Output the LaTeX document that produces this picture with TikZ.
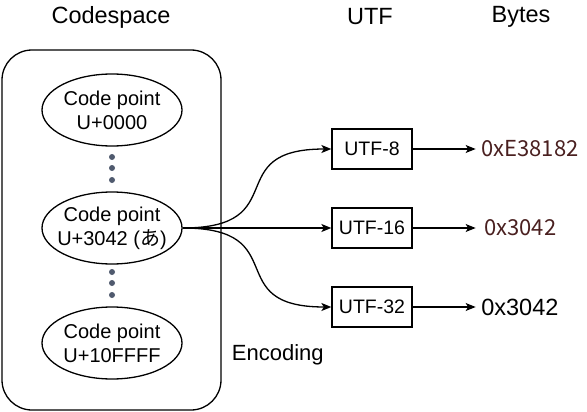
\documentclass[tikz,border=0pt]{standalone}
\usepackage{fontspec}
\setmainfont{Liberation Sans}
\newfontfamily\cjk{Noto Sans CJK JP}
\usepackage[dvipsnames]{xcolor}
\usetikzlibrary{shapes.geometric,positioning,arrows.meta}
\definecolor{hexred}{HTML}{4A2020}
\definecolor{dotgray}{HTML}{505A6E}

\begin{document}
\begin{tikzpicture}[x=1pt,y=-1pt,->,>={Stealth[length=10pt,width=8pt,inset=2.5pt]},line width=1.3pt,auto,node distance=79pt,
    point node/.style={ellipse,draw,minimum width=140pt,minimum height=72pt,inner xsep=-14pt,inner ysep=0pt,align=center,font=\fontsize{20}{24}\selectfont},
    utf node/.style={draw,minimum width=80pt,minimum height=40pt,inner sep=0pt,font=\fontsize{19.5}{22}\selectfont},
    head node/.style={font=\fontsize{23.5}{26}\selectfont}]

            \useasboundingbox (0,0) rectangle (587,412);

            % codespace
            \draw[-,rounded corners=30pt] (2,50) rectangle (221,410);
            \node[head node] (h1) at (111,17) {Codespace};
            \node[head node] (h2) at (370,17) {UTF};
            \node[head node] (h3) at (521,17) {Bytes};

            \node[point node] (1) at (112,110) {Code point\\U+0000};
            \node[point node] (2) at (112,228) {Code point\\U+3042 ({\cjk あ})};
            \node[point node] (3) at (112,343) {Code point\\U+10FFFF};

            \foreach \y in {157,168,180,272,283,295}
                \fill[dotgray] (112,\y) circle (3pt);

            \node[font=\fontsize{22}{24}\selectfont, anchor=west] (enc) at (228,355) {Encoding};

            % encodings
            \node[utf node] (5) at (372,228) {UTF-16};
            \node[utf node] (4) [above of = 5] {UTF-8};
            \node[utf node] (6) [below of = 5] {UTF-32};

            \draw (2.east) to[out=0,in=180,looseness=1.7] (4);
            \draw (2.east) to (5);
            \draw (2.east) to[out=0,in=180,looseness=1.7] (6);

            % bytes
            \coordinate[right=63pt of 4.east] (7);
            \coordinate[right=63pt of 5.east] (8);
            \coordinate[right=63pt of 6.east] (9);

            \draw (4) to (7);
            \draw (5) to (8);
            \draw (6) to (9);

            \node[right=3pt of 7, inner sep=2pt, text=hexred, font=\cjk\fontsize{22}{24}\selectfont] (10) {0xE38182};
            \node[right=6pt of 8, inner sep=2pt, text=hexred, font=\cjk\fontsize{22}{24}\selectfont] (11) {0x3042};
            \node[right=3pt of 9, inner sep=2pt, font=\fontsize{23.5}{26}\selectfont] (12) {0x3042};

            ;
        \end{tikzpicture}
\end{document}
